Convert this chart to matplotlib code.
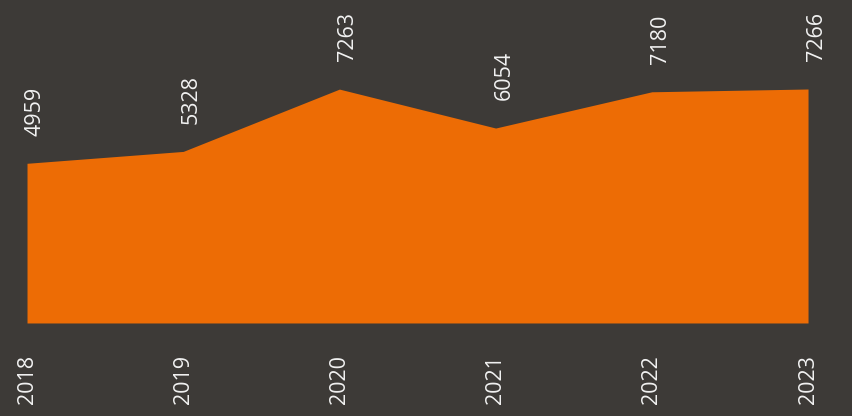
import matplotlib.pyplot as plt

years = ["2018", "2019", "2020", "2021", "2022", "2023"]
values = [4959, 5328, 7263, 6054, 7180, 7266]

bg = "#3d3a37"
orange = "#ed6c05"
txt = "#f2f2f2"

plt.rcParams['font.family'] = ['Open Sans', 'DejaVu Sans']

fig = plt.figure(figsize=(8.52, 4.16), dpi=100, facecolor=bg)
ax = fig.add_axes([0.0317, 0.2236, 0.9167, 0.7764])
ax.set_facecolor(bg)

x = list(range(len(years)))
ax.fill_between(x, values, 0, color=orange, linewidth=0)

for xi, v in zip(x, values):
    ax.annotate(str(v), (xi, v), xytext=(6, 20), textcoords="offset points",
                rotation=90, ha="center", va="bottom", color=txt, fontsize=15.5)

ax.set_xlim(0, len(years) - 1)
ax.set_ylim(0, 10030)
ax.set_xticks(x)
ax.set_xticklabels(years, rotation=90, color=txt, fontsize=15.5)
ax.tick_params(axis="x", length=0, pad=23)
ax.set_yticks([])
for s in ax.spines.values():
    s.set_visible(False)

fig.savefig("out.png", dpi=100, facecolor=bg)
